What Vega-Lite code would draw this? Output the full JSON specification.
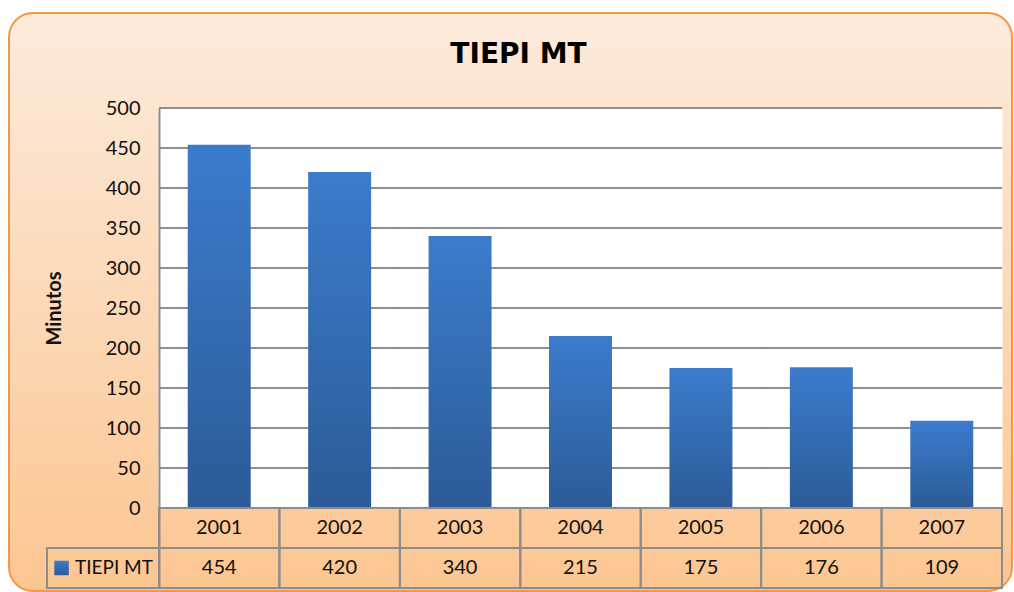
{
  "$schema": "https://vega.github.io/schema/vega-lite/v6.json",
  "width": 843,
  "height": 480,
  "autosize": {"type": "none"},
  "padding": {"left": 159, "top": 108, "right": 12, "bottom": 4},
  "background": "white",
  "config": {"view": {"stroke": null, "fill": null}, "font": "Lato"},
  "title": {"text": "TIEPI MT", "font": "DejaVu Sans", "fontSize": 28, "fontWeight": "bold", "color": "#000000", "anchor": "middle", "frame": "group", "dx": -62, "offset": -79, "baseline": "alphabetic"},
  "datasets": {
    "tiepi": [
      {"ano": "2001", "minutos": 454},
      {"ano": "2002", "minutos": 420},
      {"ano": "2003", "minutos": 340},
      {"ano": "2004", "minutos": 215},
      {"ano": "2005", "minutos": 175},
      {"ano": "2006", "minutos": 176},
      {"ano": "2007", "minutos": 109}
    ],
    "grelha": [{"v": 0}, {"v": 50}, {"v": 100}, {"v": 150}, {"v": 200}, {"v": 250}, {"v": 300}, {"v": 350}, {"v": 400}, {"v": 450}, {"v": 500}],
    "moldura": [{"k": "moldura"}],
    "serie": [{"serie": "TIEPI MT"}]
  },
  "layer": [
    {
      "data": {"name": "moldura"},
      "mark": {"type": "rect", "cornerRadius": 24, "stroke": "#F79646", "strokeWidth": 2, "fill": {"gradient": "linear", "x1": 0, "y1": 0, "x2": 0, "y2": 1, "stops": [{"offset": 0, "color": "#FDEBDC"}, {"offset": 1, "color": "#FCC692"}]}},
      "encoding": {
        "x": {"field": "k", "type": "nominal", "axis": null, "scale": {"type": "band", "range": [-150, 853], "paddingInner": 0, "paddingOuter": 0}},
        "y": {"field": "k", "type": "nominal", "axis": null, "scale": {"type": "band", "range": [-95, 483], "paddingInner": 0, "paddingOuter": 0}}
      }
    },
    {
      "layer": [
        {
          "data": {"name": "tiepi"},
          "layer": [
            {
              "mark": {"type": "rect", "fill": "white", "stroke": "white", "strokeWidth": 1},
              "encoding": {
                "x": {"field": "ano", "type": "nominal", "axis": null, "scale": {"paddingInner": 0, "paddingOuter": 0}},
                "y": {"datum": 0, "type": "quantitative", "scale": {"domain": [-100, 500], "nice": false, "zero": false}},
                "y2": {"datum": 500}
              }
            },
            {
              "data": {"name": "grelha"},
              "mark": {"type": "rule", "color": "#8F8F8F", "strokeWidth": 1.8},
              "encoding": {
                "y": {"field": "v", "type": "quantitative"}
              }
            },
            {
              "mark": {"type": "bar", "width": {"band": 0.523}, "color": {"gradient": "linear", "x1": 0, "y1": 0, "x2": 0, "y2": 1, "stops": [{"offset": 0, "color": "#3B7CCC"}, {"offset": 1, "color": "#2C5B97"}]}},
              "encoding": {
                "x": {"field": "ano", "type": "nominal", "axis": null},
                "y": {"field": "minutos", "type": "quantitative", "scale": {"domain": [-100, 500], "nice": false, "zero": false},
                  "axis": {"values": [0, 50, 100, 150, 200, 250, 300, 350, 400, 450, 500], "grid": false, "ticks": false, "domain": true, "domainColor": "#8C8C8C", "domainWidth": 2, "labelFont": "Lato", "labelFontSize": 20, "labelColor": "#111111", "labelPadding": 19, "title": "Minutos", "titleFont": "Lato", "titleFontSize": 20, "titleFontWeight": "bold", "titleColor": "#111111", "titleX": -105, "titleY": 200, "titleAngle": 270, "titleAlign": "center", "titleBaseline": "middle", "zindex": 1}},
                "y2": {"datum": 0}
              }
            },
            {
              "mark": {"type": "rect", "filled": false, "color": "#8C8C8C", "strokeWidth": 2},
              "encoding": {
                "x": {"field": "ano", "type": "nominal", "axis": null},
                "y": {"datum": -50},
                "y2": {"datum": 0}
              }
            },
            {
              "mark": {"type": "rect", "filled": false, "color": "#8C8C8C", "strokeWidth": 2},
              "encoding": {
                "x": {"field": "ano", "type": "nominal", "axis": null},
                "y": {"datum": -100},
                "y2": {"datum": -50}
              }
            },
            {
              "mark": {"type": "text", "font": "Lato", "fontSize": 20, "color": "#111111", "baseline": "middle", "align": "center"},
              "encoding": {
                "x": {"field": "ano", "type": "nominal", "axis": null},
                "y": {"datum": -25},
                "text": {"field": "ano"}
              }
            },
            {
              "mark": {"type": "text", "font": "Lato", "fontSize": 20, "color": "#111111", "baseline": "middle", "align": "center"},
              "encoding": {
                "x": {"field": "ano", "type": "nominal", "axis": null},
                "y": {"datum": -75},
                "text": {"field": "minutos", "type": "quantitative"}
              }
            }
          ]
        },
        {
          "data": {"name": "serie"},
          "layer": [
            {
              "mark": {"type": "rect", "filled": false, "color": "#8C8C8C", "strokeWidth": 2},
              "encoding": {
                "x": {"field": "serie", "type": "nominal", "axis": null, "scale": {"type": "band", "range": [-112, 0], "paddingInner": 0, "paddingOuter": 0}},
                "y": {"datum": -100},
                "y2": {"datum": -50}
              }
            },
            {
              "mark": {"type": "point", "shape": "square", "size": 210, "filled": true, "opacity": 1, "color": {"gradient": "linear", "x1": 0, "y1": 0, "x2": 0, "y2": 1, "stops": [{"offset": 0, "color": "#3B7CCC"}, {"offset": 1, "color": "#2C5B97"}]}},
              "encoding": {
                "x": {"field": "serie", "type": "nominal", "axis": null, "bandPosition": 0.13},
                "y": {"datum": -75}
              }
            },
            {
              "mark": {"type": "text", "font": "Lato", "fontSize": 19, "color": "#111111", "baseline": "middle", "align": "left"},
              "encoding": {
                "x": {"field": "serie", "type": "nominal", "axis": null, "bandPosition": 0.25},
                "y": {"datum": -75},
                "text": {"field": "serie"}
              }
            }
          ]
        }
      ],
      "resolve": {"scale": {"x": "independent"}}
    }
  ],
  "resolve": {"scale": {"x": "independent", "y": "independent"}}
}
